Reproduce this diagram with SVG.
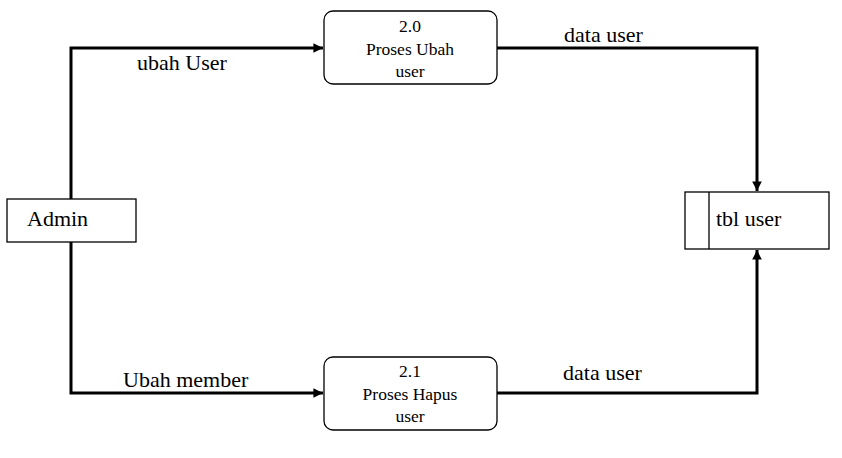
<svg xmlns="http://www.w3.org/2000/svg" width="842" height="458" viewBox="0 0 842 458">
<style>
.box{fill:#fff;stroke:#000;stroke-width:1.3}
.flow{fill:none;stroke:#000;stroke-width:3}
text{font-family:'Liberation Serif','Times New Roman','DejaVu Serif',serif;fill:#000}
.lbl{font-size:22px}
.pt{font-size:17.5px;text-anchor:middle}
</style>
<defs>
<marker id="ah" viewBox="0 0 10 10" refX="10" refY="5" markerWidth="4" markerHeight="3.2" orient="auto" markerUnits="strokeWidth">
<path d="M0,0 L10,5 L0,10 z" fill="#000"/>
</marker>
</defs>
<rect width="842" height="458" fill="#fff"/>
<g id="connectors">
<path class="flow" d="M71,199 V48 H323" marker-end="url(#ah)"/>
<path class="flow" d="M71,242 V393 H323" marker-end="url(#ah)"/>
<path class="flow" d="M497,48 H757 V191" marker-end="url(#ah)"/>
<path class="flow" d="M497,393 H757 V250" marker-end="url(#ah)"/>
<text class="lbl" x="137" y="70">ubah User</text>
<text class="lbl" x="564" y="42">data user</text>
<text class="lbl" x="123" y="387">Ubah member</text>
<text class="lbl" x="563" y="380">data user</text>
</g>
<g id="admin">
<rect class="box" x="7" y="199" width="129" height="43"/>
<text class="lbl" x="27" y="226">Admin</text>
</g>
<g id="p20">
<rect class="box" x="324" y="11" width="173" height="73" rx="9"/>
<text class="pt" x="410" y="32">2.0</text>
<text class="pt" x="410" y="55">Proses Ubah</text>
<text class="pt" x="410" y="77">user</text>
</g>
<g id="p21">
<rect class="box" x="324" y="357" width="173" height="73" rx="9"/>
<text class="pt" x="410" y="377">2.1</text>
<text class="pt" x="410" y="400">Proses Hapus</text>
<text class="pt" x="410" y="422">user</text>
</g>
<g id="tbluser">
<rect class="box" x="685" y="192" width="144" height="57"/>
<line x1="709" y1="192" x2="709" y2="249" stroke="#000" stroke-width="1.3"/>
<text class="lbl" x="716" y="226">tbl user</text>
</g>
</svg>
